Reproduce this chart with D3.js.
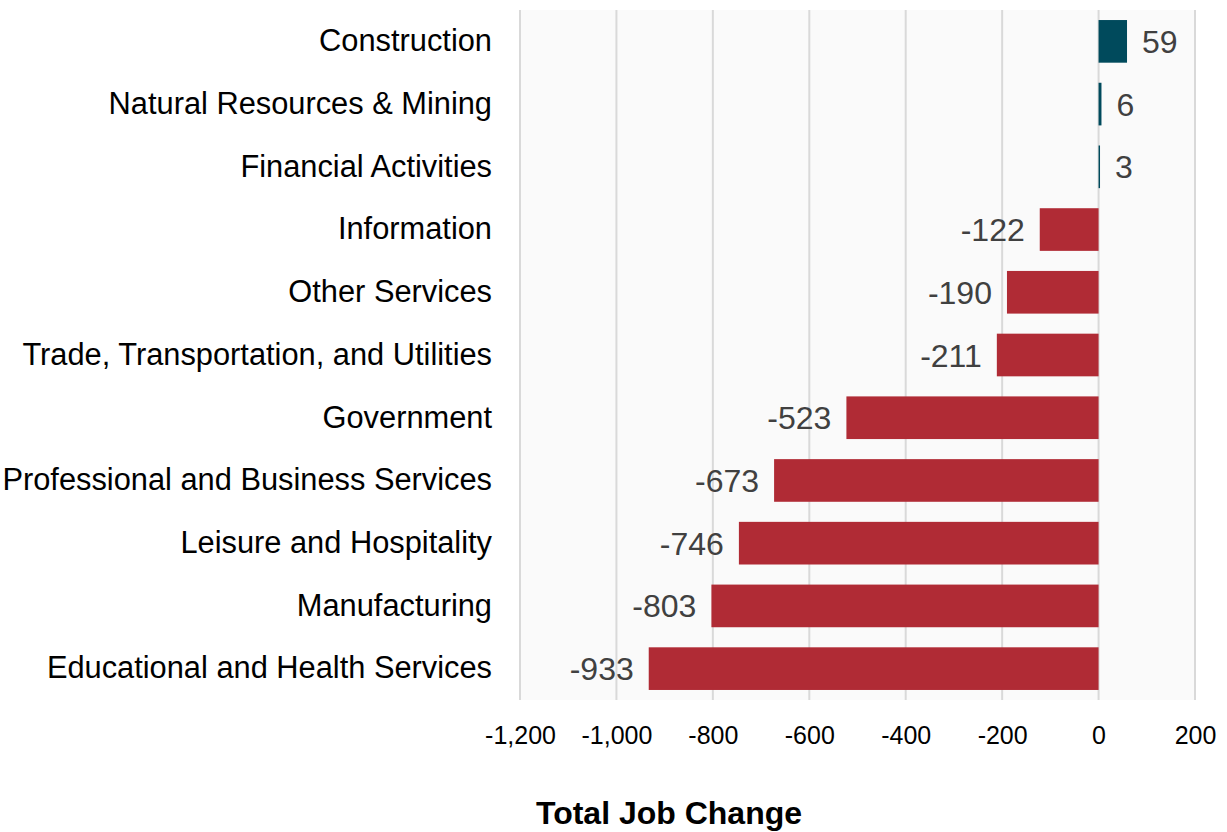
<!DOCTYPE html>
<html>
<head>
<meta charset="utf-8">
<script src="https://cdn.jsdelivr.net/npm/d3@7"></script>
<style>
  body { margin: 0; background: #ffffff; }
  text { font-family: "Liberation Sans", Arial, sans-serif; }
</style>
</head>
<body>
<div id="chart"></div>
<script>
var width = 1227;
var height = 832;

var categories = ["Construction", "Natural Resources & Mining", "Financial Activities", "Information",
                  "Other Services", "Trade, Transportation, and Utilities", "Government",
                  "Professional and Business Services", "Leisure and Hospitality", "Manufacturing",
                  "Educational and Health Services"];
var jobChange = [59, 6, 3, -122, -190, -211, -523, -673, -746, -803, -933];
var tickValues = [-1200, -1000, -800, -600, -400, -200, 0, 200];

var margin = {top: 10, right: 32, bottom: 132, left: 520};

var svg = d3.select("#chart")
            .append("svg")
            .attr("width", width)
            .attr("height", height);

var x = d3.scaleLinear()
          .domain([-1200, 200])
          .range([margin.left, width - margin.right]);

var y = d3.scaleBand()
          .domain(categories)
          .range([margin.top, height - margin.bottom])
          .paddingInner(0.32)
          .paddingOuter(0.16);

// plot background
svg.append("rect")
   .attr("x", x(-1200))
   .attr("y", margin.top)
   .attr("width", x(200) - x(-1200))
   .attr("height", height - margin.bottom - margin.top)
   .attr("fill", "#fafafa");

// gridlines
svg.selectAll(".grid")
   .data(tickValues)
   .enter()
   .append("line")
   .attr("x1", function(d) { return x(d); })
   .attr("x2", function(d) { return x(d); })
   .attr("y1", margin.top)
   .attr("y2", height - margin.bottom)
   .attr("stroke", "#d9d9d9")
   .attr("stroke-width", 2);

// bars
svg.selectAll(".bar")
   .data(jobChange)
   .enter()
   .append("rect")
   .attr("x", function(d) { return x(Math.min(0, d)); })
   .attr("y", function(d, i) { return y(categories[i]); })
   .attr("width", function(d) { return Math.abs(x(d) - x(0)); })
   .attr("height", y.bandwidth())
   .attr("fill", function(d) { return d >= 0 ? "#004a5c" : "#b02b35"; });

// value labels
svg.selectAll(".val")
   .data(jobChange)
   .enter()
   .append("text")
   .attr("x", function(d) { return d >= 0 ? x(d) + 15 : x(d) - 15; })
   .attr("y", function(d, i) { return y(categories[i]) + y.bandwidth() / 2; })
   .attr("dy", "0.36em")
   .attr("text-anchor", function(d) { return d >= 0 ? "start" : "end"; })
   .attr("fill", "#404040")
   .style("font-size", "32px")
   .text(function(d) { return d; });

// category labels
var yAxis = svg.append("g")
               .attr("transform", "translate(" + (margin.left - 28) + ",0)")
               .call(d3.axisLeft(y).tickSize(0).tickPadding(0));
yAxis.select(".domain").remove();
yAxis.selectAll("text")
     .style("font-size", "30.8px")
     .style("font-family", "'Liberation Sans', Arial, sans-serif")
     .attr("fill", "#000");

// x axis
var fmt = d3.format(",");
var xAxis = svg.append("g")
               .attr("transform", "translate(0," + (height - margin.bottom) + ")")
               .call(d3.axisBottom(x).tickValues(tickValues).tickSize(0).tickPadding(26)
                       .tickFormat(function(d) { return fmt(d).replace("\u2212", "-"); }));
xAxis.select(".domain").remove();
xAxis.selectAll("text")
     .style("font-size", "25px")
     .style("font-family", "'Liberation Sans', Arial, sans-serif")
     .attr("fill", "#000");

// axis title
svg.append("text")
   .attr("x", 669)
   .attr("y", 824)
   .attr("text-anchor", "middle")
   .style("font-size", "32px")
   .style("font-weight", "bold")
   .style("font-family", "'Liberation Sans', Arial, sans-serif")
   .text("Total Job Change");
</script>
</body>
</html>
